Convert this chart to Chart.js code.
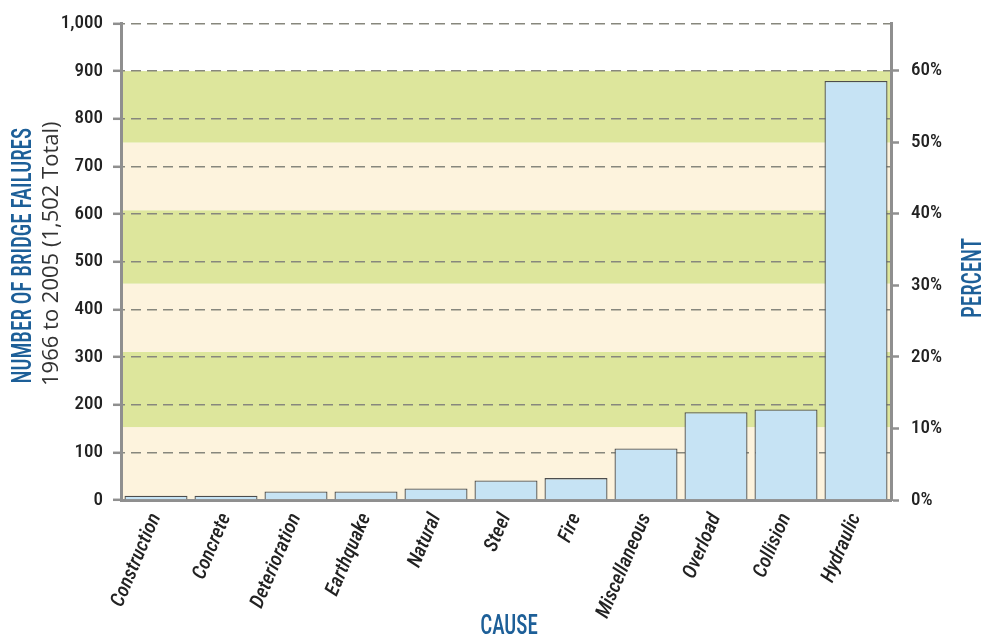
<!DOCTYPE html>
<html>
<head>
<meta charset="utf-8">
<script src="https://cdn.jsdelivr.net/npm/chart.js@4.4.1/dist/chart.umd.min.js"></script>
<style>
  html, body { margin: 0; padding: 0; background: #fff; }
  #wrap { width: 990px; height: 640px; }
</style>
</head>
<body>
<div id="wrap"><canvas id="bridgeChart" width="990" height="640"></canvas></div>
<script>
// data
const causes = ['Construction', 'Concrete', 'Deterioration', 'Earthquake', 'Natural', 'Steel',
  'Fire', 'Miscellaneous', 'Overload', 'Collision', 'Hydraulic'];
const failures = [9, 9, 18, 18, 24, 41, 46, 108, 184, 190, 879];
const totalFailures = 1502;
const percentTicks = [0, 10, 20, 30, 40, 50, 60];
// background bands, in number of failures (bottom to top)
const bandEdges = [0, 153, 311, 454, 608, 750, 900];
const bandColors = ['#fdf3dd', '#dde69c', '#fdf3dd', '#dde69c', '#fdf3dd', '#dde69c'];

const narrow = '"Roboto Condensed", Roboto, sans-serif';
const blue = '#1d5f98';
const axisGray = '#8f8f8f';

const bandsPlugin = {
  id: 'bands',
  beforeDraw(chart) {
    const { ctx, chartArea, scales: { y } } = chart;
    ctx.save();
    for (let i = 0; i < bandEdges.length - 1; i++) {
      const top = y.getPixelForValue(bandEdges[i + 1]);
      const bottom = y.getPixelForValue(bandEdges[i]);
      ctx.fillStyle = bandColors[i];
      ctx.fillRect(chartArea.left, top, chartArea.right - chartArea.left, bottom - top);
    }
    ctx.restore();
  }
};

// axis titles, drawn by hand so they can be squeezed like the original condensed face
function drawLabel(ctx, text, x, y, font, color, angle, squeeze) {
  ctx.save();
  ctx.textAlign = 'center';
  ctx.textBaseline = 'middle';
  ctx.translate(x, y);
  ctx.rotate(angle);
  ctx.scale(squeeze, 1);
  ctx.fillStyle = color;
  ctx.font = font;
  ctx.fillText(text, 0, 0);
  ctx.restore();
}

const titlesPlugin = {
  id: 'titles',
  afterDraw(chart) {
    const { ctx, chartArea } = chart;
    const midY = (chartArea.top + chartArea.bottom) / 2;
    const titleFont = '500 27px ' + narrow;
    drawLabel(ctx, 'NUMBER OF BRIDGE FAILURES', 24, midY - 6, titleFont, blue, -Math.PI / 2, 0.78);
    drawLabel(ctx, '1966 to 2005 (1,502 Total)', 52, midY - 8, '22px "Open Sans", sans-serif', '#333', -Math.PI / 2, 1);
    drawLabel(ctx, 'PERCENT', 974, 278, titleFont, blue, -Math.PI / 2, 0.78);
    drawLabel(ctx, 'CAUSE', 509, 627, titleFont, blue, 0, 0.78);
  }
};

const ctx = document.getElementById('bridgeChart').getContext('2d');
new Chart(ctx, {
  type: 'bar',
  data: {
    labels: causes,
    datasets: [{
      label: 'Bridge failures',
      data: failures,
      backgroundColor: '#c6e3f4',
      borderColor: '#4d4d4d',
      borderWidth: 1.3,
      barPercentage: 0.9,
      categoryPercentage: 1.0,
      yAxisID: 'y'
    }]
  },
  options: {
    responsive: false,
    animation: false,
    layout: { padding: { top: 22, left: 0, right: 0, bottom: 0 } },
    plugins: {
      legend: { display: false },
      tooltip: { enabled: false }
    },
    scales: {
      x: {
        grid: { display: false },
        border: { display: true, color: axisGray, width: 3 },
        ticks: {
          color: '#222',
          font: { family: narrow, size: 20, style: 'italic', weight: 500 },
          minRotation: 67,
          maxRotation: 67,
          padding: 2
        },
        afterFit(scale) { scale.height = 140; }
      },
      y: {
        position: 'left',
        min: 0,
        max: 1000,
        ticks: {
          stepSize: 100,
          color: '#222',
          font: { family: narrow, size: 19, weight: 500 },
          padding: 10,
          callback: v => v.toLocaleString('en-US')
        },
        grid: {
          color: '#87877d',
          lineWidth: 1.6,
          tickColor: axisGray,
          tickLength: 8,
          tickWidth: 2.5,
          tickBorderDash: []
        },
        border: { display: true, color: axisGray, width: 3, dash: [10, 6], dashOffset: -8 },
        afterFit(scale) { scale.width = 121; }
      },
      pct: {
        position: 'right',
        min: 0,
        max: 1000 / totalFailures * 100,
        afterBuildTicks(scale) {
          scale.ticks = percentTicks.map(v => ({ value: v }));
        },
        ticks: {
          color: '#222',
          font: { family: narrow, size: 19, weight: 500 },
          padding: 12,
          callback: v => v + '%'
        },
        grid: {
          drawOnChartArea: false,
          tickColor: axisGray,
          tickLength: 8,
          tickWidth: 2.5
        },
        border: { display: true, color: axisGray, width: 3 },
        afterFit(scale) { scale.width = 99; }
      }
    }
  },
  plugins: [bandsPlugin, titlesPlugin]
});
</script>
</body>
</html>
